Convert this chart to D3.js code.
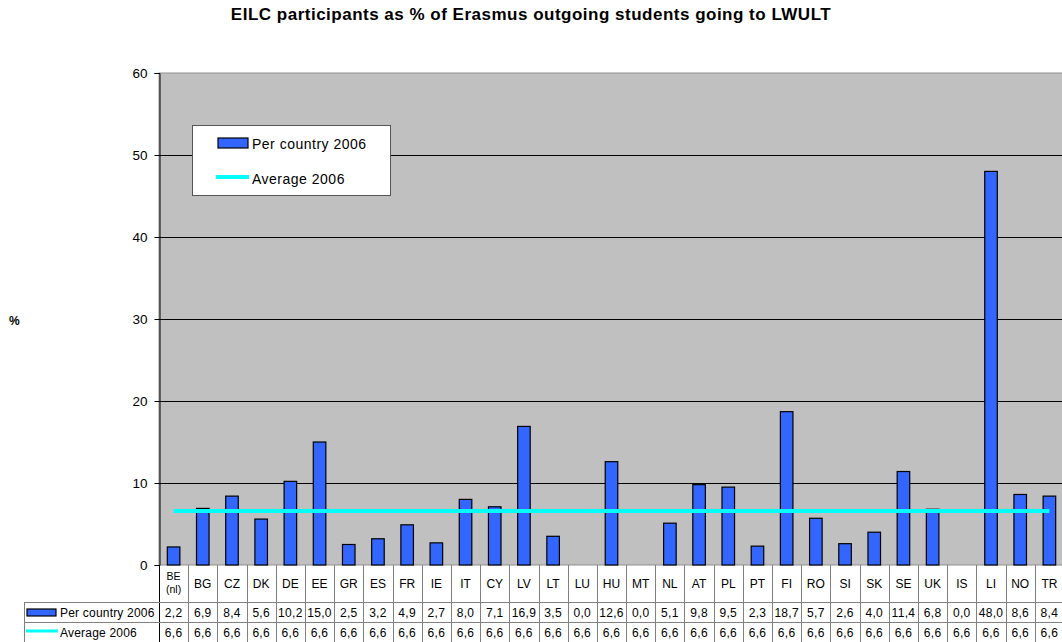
<!DOCTYPE html>
<html>
<head>
<meta charset="utf-8" />
<title>EILC participants</title>
<script src="https://d3js.org/d3.v7.min.js"></script>
<style>
body { margin: 0; background: #fff; }
svg { display: block; font-family: "Liberation Sans", Arial, sans-serif; }
</style>
</head>
<body>
<div id="chart"></div>
<script>

// data
var countries = ["BE\n(nl)","BG","CZ","DK","DE","EE","GR","ES","FR","IE","IT","CY","LV","LT","LU","HU","MT","NL","AT","PL","PT","FI","RO","SI","SK","SE","UK","IS","LI","NO","TR"]
var perCountry = [2.2,6.9,8.4,5.6,10.2,15.0,2.5,3.2,4.9,2.7,8.0,7.1,16.9,3.5,0.0,12.6,0.0,5.1,9.8,9.5,2.3,18.7,5.7,2.6,4.0,11.4,6.8,0.0,48.0,8.6,8.4]
var average = [6.6,6.6,6.6,6.6,6.6,6.6,6.6,6.6,6.6,6.6,6.6,6.6,6.6,6.6,6.6,6.6,6.6,6.6,6.6,6.6,6.6,6.6,6.6,6.6,6.6,6.6,6.6,6.6,6.6,6.6,6.6]
var yTicks = [0,10,20,30,40,50,60]
var seriesNames = ["Per country 2006","Average 2006"]

var size = {width:1062, height:642}
var plot = {left:159, right:1064, top:73, bottom:565}

var barColor = "#3366ff"
var lineColor = "#00ffff"
var fmt = function(v) { return d3.format(".1f")(v).replace(".", ","); }

var svg = d3.select("#chart").append("svg")
	.attr("width", size.width)
	.attr("height", size.height)

var x = d3.scaleBand()
	.domain(countries)
	.range([plot.left, plot.right])
	.padding(0)

var y = d3.scaleLinear()
	.domain([0,60])
	.range([plot.bottom, plot.top])

// title
svg.append("text")
	.text("EILC participants as % of Erasmus outgoing students going to LWULT")
	.attr("x", 531)
	.attr("y", 20)
	.attr("text-anchor", "middle")
	.attr("font-size", 17)
	.attr("font-weight", "bold")
	.attr("letter-spacing", 0.5)

// plot background
svg.append("rect")
	.attr("x", plot.left)
	.attr("y", plot.top)
	.attr("width", plot.right - plot.left)
	.attr("height", plot.bottom - plot.top)
	.attr("fill", "#c0c0c0")
	.attr("stroke", "#909090")
	.attr("stroke-width", 1)

// gridlines
svg.append("g")
	.selectAll("line")
	.data(yTicks.filter(function(t) { return t > 0 && t < 60; }))
	.enter().append("line")
	.attr("x1", plot.left)
	.attr("x2", plot.right)
	.attr("y1", function(d) { return Math.round(y(d)) + 0.5; })
	.attr("y2", function(d) { return Math.round(y(d)) + 0.5; })
	.attr("stroke", "#000")
	.attr("stroke-width", 1)

// y axis
var yAxis = svg.append("g")
	.attr("transform", "translate(" + (plot.left + 0.5) + ",0)")
	.call(d3.axisLeft(y).tickValues(yTicks).tickSize(5).tickPadding(7))
yAxis.select(".domain").attr("stroke", "#000")
yAxis.selectAll("text").attr("font-size", 13.5).attr("fill", "#000").attr("font-family", "Liberation Sans, Arial, sans-serif")

svg.append("text")
	.text("%")
	.attr("x", 9)
	.attr("y", 325)
	.attr("font-size", 12)
	.attr("font-weight", "bold")

// bars
var barW = x.bandwidth() * 0.43
svg.append("g")
	.selectAll("rect")
	.data(perCountry.map(function(v, i) { return {c: countries[i], v: v}; }).filter(function(d) { return d.v > 0; }))
	.enter().append("rect")
	.attr("x", function(d) { return x(d.c) + (x.bandwidth() - barW) / 2; })
	.attr("y", function(d) { return y(d.v); })
	.attr("width", barW)
	.attr("height", function(d) { return y(0) - y(d.v); })
	.attr("fill", barColor)
	.attr("stroke", "#000")
	.attr("stroke-width", 1.2)

// average line
var line = d3.line()
	.x(function(d, i) { return x(countries[i]) + x.bandwidth() / 2; })
	.y(function(d) { return y(d); })

svg.append("path")
	.datum(average)
	.attr("d", line)
	.attr("fill", "none")
	.attr("stroke", lineColor)
	.attr("stroke-width", 4)

// legend box
var legend = svg.append("g")
legend.append("rect")
	.attr("x", 192.5).attr("y", 125.5)
	.attr("width", 198).attr("height", 70)
	.attr("fill", "#fff")
	.attr("stroke", "#555")
	.attr("stroke-width", 1)
legend.append("rect")
	.attr("x", 218).attr("y", 138)
	.attr("width", 30).attr("height", 10)
	.attr("fill", barColor)
	.attr("stroke", "#000")
	.attr("stroke-width", 1.2)
legend.append("line")
	.attr("x1", 216).attr("x2", 249)
	.attr("y1", 177).attr("y2", 177)
	.attr("stroke", lineColor)
	.attr("stroke-width", 4)
legend.selectAll("text")
	.data(seriesNames)
	.enter().append("text")
	.text(function(d) { return d; })
	.attr("x", 252)
	.attr("y", function(d, i) { return 149 + i * 35; })
	.attr("font-size", 14)
	.attr("letter-spacing", 0.5)

// data table
var table = svg.append("g")
var rowTop = [565, 602, 622, 642]
var gridColor = "#808080"

// vertical lines between categories
table.selectAll(".vline")
	.data(countries)
	.enter().append("line")
	.attr("x1", function(d) { return Math.round(x(d)) + 0.5; })
	.attr("x2", function(d) { return Math.round(x(d)) + 0.5; })
	.attr("y1", rowTop[0])
	.attr("y2", rowTop[3])
	.attr("stroke", function(d, i) { return i == 0 ? "#000" : gridColor; })
	.attr("stroke-width", 1)

// horizontal lines
table.selectAll(".hline")
	.data(rowTop.slice(1, 3))
	.enter().append("line")
	.attr("x1", 24)
	.attr("x2", plot.right)
	.attr("y1", function(d) { return d + 0.5; })
	.attr("y2", function(d) { return d + 0.5; })
	.attr("stroke", gridColor)
	.attr("stroke-width", 1)

table.append("line")
	.attr("x1", 24.5).attr("x2", 24.5)
	.attr("y1", rowTop[1]).attr("y2", rowTop[3])
	.attr("stroke", gridColor)

// category labels
countries.forEach(function(c) {
	var parts = c.split("\n")
	var cx = x(c) + x.bandwidth() / 2
	var t = table.append("text")
		.attr("text-anchor", "middle")
		.attr("font-size", parts.length > 1 ? 10.5 : 12)
	parts.forEach(function(p, j) {
		t.append("tspan")
			.attr("x", cx)
			.attr("y", parts.length > 1 ? 580 + j * 12.5 : 588)
			.text(p)
	})
})

// value rows
var rows = [perCountry, average]
rows.forEach(function(vals, r) {
	table.append("g")
		.selectAll("text")
		.data(vals)
		.enter().append("text")
		.text(function(d) { return fmt(d); })
		.attr("x", function(d, i) { return x(countries[i]) + x.bandwidth() / 2; })
		.attr("y", rowTop[r + 1] + 15)
		.attr("text-anchor", "middle")
		.attr("font-size", 12)
		.attr("letter-spacing", 0.3)
})

// table legend keys
table.append("rect")
	.attr("x", 27).attr("y", 609)
	.attr("width", 29).attr("height", 7)
	.attr("fill", barColor)
	.attr("stroke", "#000")
	.attr("stroke-width", 1.2)
table.append("line")
	.attr("x1", 26).attr("x2", 58)
	.attr("y1", 631).attr("y2", 631)
	.attr("stroke", lineColor)
	.attr("stroke-width", 3)
table.selectAll(".legtext")
	.data(seriesNames)
	.enter().append("text")
	.text(function(d) { return d; })
	.attr("x", 60)
	.attr("y", function(d, i) { return rowTop[i + 1] + 15; })
	.attr("font-size", 12)
	.attr("letter-spacing", 0.2)

</script>
</body>
</html>
